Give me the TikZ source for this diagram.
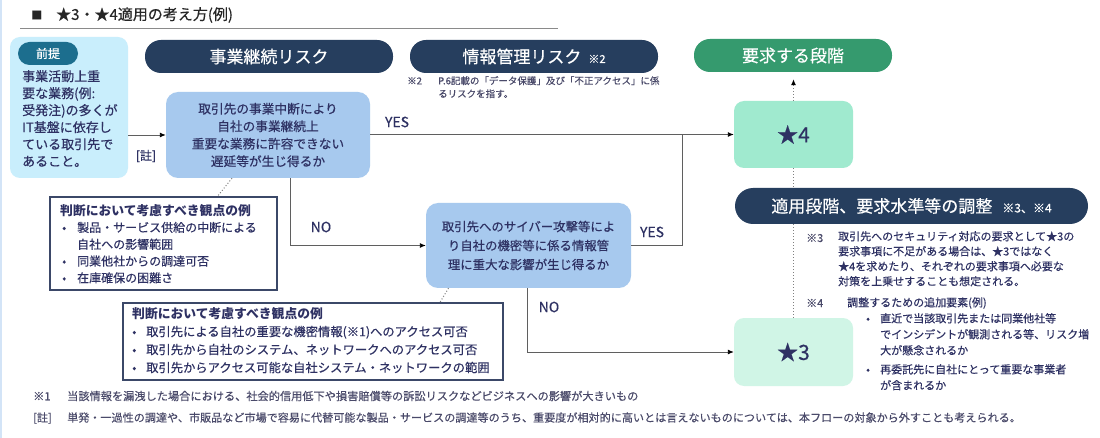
\documentclass[tikz,border=0pt]{standalone}
\usepackage{fontspec}
\setmainfont{Noto Sans CJK JP}[UprightFeatures={FakeBold=0.35}]
\usetikzlibrary{arrows.meta,calc}
\definecolor{navy}{HTML}{263E5E}
\definecolor{txt}{HTML}{2E3163}
\definecolor{prefill}{HTML}{C9EEFC}
\definecolor{pretag}{HTML}{1C6E8E}
\definecolor{decfill}{HTML}{A7C9EE}
\definecolor{sfour}{HTML}{A0EACF}
\definecolor{sthree}{HTML}{D0F5E6}
\definecolor{goalc}{HTML}{359A6E}
\definecolor{notebd}{HTML}{3B4868}
\definecolor{connc}{HTML}{5F5F5F}
\definecolor{edgec}{HTML}{D3E4F7}
\definecolor{rulec}{HTML}{8A8A8A}
\definecolor{fnc}{HTML}{4A4A6A}
\newcommand\fs[2]{\fontsize{#1}{#2}\selectfont}
\newcommand\bulA[1]{\makebox[17pt][l]{\hspace{2pt}\textbullet}#1}
\newcommand\bulC[1]{\makebox[14pt][l]{\textbullet}#1}
\tikzset{
  pill/.style={rounded corners=16pt, fill=navy, text=white, inner sep=0pt, font=\fs{17}{20}},
  decbox/.style={fill=decfill, rounded corners=12pt, text=txt, align=center, inner sep=0pt, font=\fs{12.7}{17.5}},
  starbox/.style={rounded corners=10pt, text=txt, inner sep=0pt, font=\fs{21}{24}, minimum width=119pt},
  notebox/.style={draw=notebd, line width=1.4pt, fill=white, inner sep=0pt},
  conn/.style={draw=connc, line width=0.9pt},
  arr/.style={conn, -{Latex[length=6pt,width=5pt,color=black]}},
  dots/.style={draw=gray, dotted, line width=1pt},
  lbl/.style={text=txt, font=\fs{14}{16}, inner sep=0pt},
  plain/.style={anchor=north west, inner sep=0pt, align=left, text=txt},
}
\begin{document}
\begin{tikzpicture}[x=1pt,y=-1pt]
\useasboundingbox (0,0) rectangle (1100,438);
\fill[white] (0,0) rectangle (1100,438);
\draw[edgec, line width=1.5pt] (0.75,0) -- (0.75,438);

% title
\node[anchor=west, inner sep=0pt, text=black!85, font=\fs{11}{12}] (sq) at (31,15) {■};
\node[anchor=west, inner sep=0pt, text=black!85, font=\fs{15}{17}] (title) at (56,15) {★3・★4適用の考え方(例)};
\draw[rulec, line width=1pt] (20,29) -- (558,29);

% premise
\node[fill=prefill, rounded corners=10pt, minimum width=118pt, minimum height=141pt, inner sep=0pt] (pre) at (69,107.5) {};
\node[fill=pretag, rounded corners=11.5pt, minimum width=60pt, minimum height=23pt, inner sep=0pt, text=white, font=\fs{12}{14}] (tag) at (48,53.5) {前提};
\node[plain, font=\fs{13}{17}] (pretext) at (22,70) {事業活動上重\\要な業務(例:\\受発注)の多くが\\IT基盤に依存し\\ている取引先で\\あること。};
\node[lbl, font=\fs{12}{14}] (chu) at (146,156) {[註]};

% headers
\node[pill, minimum width=248pt, minimum height=33pt] (h1) at (269,56.5) {事業継続リスク};
\node[pill, minimum width=248pt, minimum height=33pt] (h2) at (534,56.5) {情報管理リスク\hspace{7pt}{\fs{11}{13}※2}};
\node[pill, fill=goalc, minimum width=198pt, minimum height=33pt] (goal) at (793,55.5) {要求する段階};
\node[plain, text=fnc, font=\fs{9.5}{13}] (h2note) at (407,76) {\makebox[31pt][l]{※2}P.6記載の「データ保護」及び「不正アクセス」に係\\\hspace*{31pt}るリスクを指す。};

% decisions
\node[decbox, minimum width=204pt, minimum height=86pt] (d1) at (268,135) {取引先の事業中断により\\自社の事業継続上\\重要な業務に許容できない\\遅延等が生じ得るか};
\node[decbox, minimum width=205pt, minimum height=85pt, font=\fs{12.4}{19}] (d2) at (528.5,245.5) {取引先へのサイバー攻撃等によ\\り自社の機密等に係る情報管\\理に重大な影響が生じ得るか};

% results
\node[starbox, fill=sfour, minimum height=67pt] (s4) at (793.5,134.5) {★4};
\node[starbox, fill=sthree, minimum height=68pt] (s3) at (793.5,352) {★3};
\node[pill, rounded corners=18pt, minimum width=353pt, minimum height=36pt] (adj) at (911.5,206) {適用段階、要求水準等の調整\hspace{10pt}{\fs{12}{14}※3、※4}};

% note boxes
\node[notebox, minimum width=227pt, minimum height=93pt] (n1) at (163.5,243.5) {};
\node[plain, font=\fs{12}{16.8}] (n1t) at (60,204) {{\bfseries\fs{12.8}{16.8}判断において考慮すべき観点の例}\\\bulA{製品・サービス供給の中断による}\\\hspace*{17pt}自社への影響範囲\\\bulA{同業他社からの調達可否}\\\bulA{在庫確保の困難さ}};
\node[notebox, minimum width=380pt, minimum height=77pt] (n2) at (313,341.5) {};
\node[plain, font=\fs{12.3}{18}] (n2t) at (132,307) {{\bfseries\fs{12.8}{18}判断において考慮すべき観点の例}\\\bulC{取引先による自社の重要な機密情報(※1)へのアクセス可否}\\\bulC{取引先から自社のシステム、ネットワークへのアクセス可否}\\\bulC{取引先からアクセス可能な自社システム・ネットワークの範囲}};

% connectors
\draw[arr] (d1.west -| pre.east) -- (d1.west);
\draw[arr] (d1.east |- s4.west) -- (s4.west);
\node[lbl] (yes1) at (397,122) {YES};
\draw[arr] ([xshift=22pt]d1.south) |- (d2.west);
\node[lbl] (no1) at (321,227) {NO};
\coordinate (yesj) at (682,134.5);
\draw[conn] (d2.east) -| (yesj);
\node[lbl] (yes2) at (652,232) {YES};
\draw[arr] ([xshift=-1.5pt]d2.south) |- (s3.west);
\node[lbl] (no2) at (549,307) {NO};
\draw[dots, -{Latex[length=6pt,width=5pt,color=black]}, shorten >=7pt] (s4.north) -- (s4.north |- goal.south);
\draw[dots] (s4.south) -- (s4.south |- adj.north);
\draw[dots] (s4.south |- adj.south) -- (s3.north);
\draw[dots] ([xshift=-36pt]d1.south) -- ([xshift=54pt]n1.north);
\draw[dots] ([xshift=-80pt]d2.south) -- ([xshift=127pt]n2.north);

% right notes
\node[anchor=west, inner sep=0pt, text=fnc, font=\fs{11}{13}] (k3) at (806,238) {※3};
\node[plain, font=\fs{11}{15}] (k3t) at (838,231) {取引先へのセキュリティ対応の要求として★3の\\要求事項に不足がある場合は、★3ではなく\\★4を求めたり、それぞれの要求事項へ必要な\\対策を上乗せすることも想定される。};
\node[anchor=west, inner sep=0pt, text=fnc, font=\fs{11}{13}] (k4) at (806,303) {※4};
\node[anchor=west, inner sep=0pt, text=txt, font=\fs{11}{13}] (k4t) at (847,303) {調整するための追加要素(例)};
\node[plain, font=\fs{11}{16}] (k4b) at (866,313) {\makebox[14pt][l]{\textbullet}直近で当該取引先または同業他社等\\\hspace*{14pt}でインシデントが観測される等、リスク増\\\hspace*{14pt}大が懸念されるか\\[3pt]\makebox[14pt][l]{\textbullet}再委託先に自社にとって重要な事業者\\\hspace*{14pt}が含まれるか};

% footnotes
\node[anchor=west, inner sep=0pt, text=fnc, font=\fs{11.2}{13}] (fn1) at (33,396) {\makebox[34pt][l]{※1}当該情報を漏洩した場合における、社会的信用低下や損害賠償等の訴訟リスクなどビジネスへの影響が大きいもの};
\node[anchor=west, inner sep=0pt, text=fnc, font=\fs{11.1}{13}] (fn2) at (33,418) {\makebox[34pt][l]{[註]}単発・一過性の調達や、市販品など市場で容易に代替可能な製品・サービスの調達等のうち、重要度が相対的に高いとは言えないものについては、本フローの対象から外すことも考えられる。};
\end{tikzpicture}
\end{document}
